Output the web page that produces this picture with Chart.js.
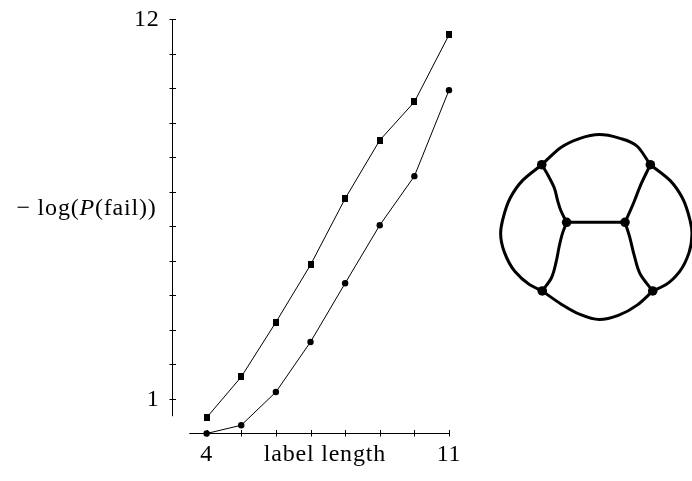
<!DOCTYPE html>
<html>
<head>
<meta charset="utf-8">
<script src="https://cdn.jsdelivr.net/npm/chart.js@4.4.1/dist/chart.umd.min.js"></script>
<style>
  html, body { margin: 0; padding: 0; background: #fff; }
  #wrap { position: relative; width: 692px; height: 481px; overflow: hidden; }
  #plot { position: absolute; left: 0; top: 0; }
  #graph { position: absolute; left: 470px; top: 110px; }
</style>
</head>
<body>
<div id="wrap">
  <canvas id="plot" width="692" height="481"></canvas>
  <canvas id="graph" width="222" height="240"></canvas>
</div>
<script>
// ---- plot data ----
const labelLengths = [4, 5, 6, 7, 8, 9, 10, 11];
const squareSeries = [0.46, 1.64, 3.22, 4.88, 6.80, 8.49, 9.60, 11.54];
const circleSeries = [0.00, 0.24, 1.20, 2.65, 4.35, 6.03, 7.45, 9.94];

const xTickValues = [4, 5, 6, 7, 8, 9, 10, 11];
const xTickLabels = ['4', '', '', '', '', '', '', '11'];
const yTickValues = [1, 2, 3, 4, 5, 6, 7, 8, 9, 10, 11, 12];
const yTickLabels = ['1', '', '', '', '', '', '', '', '', '', '', '12'];

const xTitle = 'label length';
const yTitleParts = [
  { text: '\u2212 log(', italic: false },
  { text: 'P', italic: true },
  { text: '(fail))', italic: false }
];

// separated axis lines: y axis sits at x = 3, x axis sits at y = 0
const yAxisAtX = 3;
const yAxisSpan = [0.5, 12];
const xAxisAtY = 0;
const xAxisSpan = [3.5, 11];

// ---- graph drawing data (layout units) ----
const graphNodes = {
  TL: [-0.58, 0.65], TR: [0.555, 0.65],
  ML: [-0.32, 0.05], MR: [0.29, 0.05],
  BL: [-0.575, -0.665], BR: [0.58, -0.665]
};
// each edge: the axis it runs along, then its waypoints from node to node
const graphEdges = [
  { along: 'x', path: ['TL', [-0.38, 0.83], [-0.18, 0.925], [0.02, 0.965], [0.22, 0.93], [0.42, 0.84], 'TR'] },
  { along: 'x', path: ['BL', [-0.38, -0.80], [-0.18, -0.91], [0.02, -0.963], [0.22, -0.92], [0.42, -0.81], 'BR'] },
  { along: 'y', path: ['TL', [-0.78, 0.487], [-0.91, 0.303], [-0.99, 0.07], [-1.01, -0.063], [-0.97, -0.263], [-0.86, -0.463], [-0.71, -0.597], 'BL'] },
  { along: 'y', path: ['TR', [0.76, 0.487], [0.89, 0.303], [0.97, 0.07], [0.99, -0.063], [0.96, -0.263], [0.86, -0.463], [0.72, -0.597], 'BR'] },
  { along: 'y', path: ['TL', [-0.513, 0.537], [-0.447, 0.403], [-0.413, 0.27], [-0.38, 0.17], 'ML'] },
  { along: 'y', path: ['ML', [-0.363, -0.063], [-0.397, -0.197], [-0.43, -0.363], [-0.48, -0.53], 'BL'] },
  { along: 'y', path: ['TR', [0.453, 0.437], [0.387, 0.27], [0.337, 0.153], 'MR'] },
  { along: 'y', path: ['MR', [0.337, -0.097], [0.387, -0.297], [0.453, -0.497], 'BR'] },
  { along: 'x', path: ['ML', 'MR'] }
];

const FONT = '"Liberation Serif", "Times New Roman", serif';
const FONT_SIZE = 24;
const LETTER_SPACING = '0.8px';

// small upright rectangle marker for the upper series
const rectMarker = document.createElement('canvas');
rectMarker.width = 6; rectMarker.height = 7;
(function () {
  const c = rectMarker.getContext('2d');
  c.fillStyle = '#000';
  c.fillRect(0, 0, 6, 7);
})();

const offsetAxes = {
  id: 'offsetAxes',
  beforeDatasetsDraw(chart) {
    const { ctx } = chart;
    const x = chart.scales.x, y = chart.scales.y;
    ctx.save();
    ctx.strokeStyle = '#000';
    ctx.lineWidth = 1;

    const ax = Math.floor(x.getPixelForValue(yAxisAtX)) + 0.5;
    const ay = Math.floor(y.getPixelForValue(xAxisAtY)) + 0.5;

    ctx.beginPath();
    ctx.moveTo(ax, y.getPixelForValue(yAxisSpan[1]));
    ctx.lineTo(ax, y.getPixelForValue(yAxisSpan[0]));
    yTickValues.forEach(v => {
      const p = Math.round(y.getPixelForValue(v)) + 0.5;
      ctx.moveTo(ax - 3, p); ctx.lineTo(ax + 3.5, p);
    });
    ctx.moveTo(x.getPixelForValue(xAxisSpan[0]), ay);
    ctx.lineTo(x.getPixelForValue(xAxisSpan[1]), ay);
    xTickValues.forEach(v => {
      const p = Math.round(x.getPixelForValue(v)) + 0.5;
      ctx.moveTo(p, ay - 3.5); ctx.lineTo(p, ay + 3);
    });
    ctx.stroke();

    ctx.fillStyle = '#000';
    ctx.font = FONT_SIZE + 'px ' + FONT;
    if ('letterSpacing' in ctx) ctx.letterSpacing = LETTER_SPACING;

    // y tick labels
    ctx.textAlign = 'right';
    ctx.textBaseline = 'middle';
    yTickValues.forEach((v, i) => {
      if (yTickLabels[i]) ctx.fillText(yTickLabels[i], ax - 13, y.getPixelForValue(v) + 1);
    });

    // x tick labels
    ctx.textAlign = 'center';
    ctx.textBaseline = 'alphabetic';
    const base = ay + 27;
    const edges = [];
    xTickValues.forEach((v, i) => {
      if (xTickLabels[i]) {
        const px = x.getPixelForValue(v);
        const w = ctx.measureText(xTickLabels[i]).width;
        ctx.fillText(xTickLabels[i], px, base);
        edges.push([px - w / 2, px + w / 2]);
      }
    });

    // x title between the outer tick labels
    const mid = (edges[0][1] + edges[edges.length - 1][0]) / 2;
    ctx.fillText(xTitle, mid, base);

    // y title, right aligned left of the tick labels
    ctx.textAlign = 'left';
    ctx.textBaseline = 'middle';
    const fonts = yTitleParts.map(p => (p.italic ? 'italic ' : '') + FONT_SIZE + 'px ' + FONT);
    const widths = yTitleParts.map((p, i) => { ctx.font = fonts[i]; return ctx.measureText(p.text).width; });
    const total = widths.reduce((a, b) => a + b, 0);
    let tx = ax - 16 - total;
    const ty = y.getPixelForValue((yTickValues[0] + yTickValues[yTickValues.length - 1]) / 2);
    yTitleParts.forEach((p, i) => {
      ctx.font = fonts[i];
      ctx.fillText(p.text, tx, ty);
      tx += widths[i];
    });
    ctx.restore();
  }
};

new Chart(document.getElementById('plot'), {
  type: 'line',
  data: {
    datasets: [
      {
        data: labelLengths.map((v, i) => ({ x: v, y: squareSeries[i] })),
        borderColor: '#000',
        borderWidth: 1,
        pointStyle: rectMarker,
        pointRadius: 4,
        backgroundColor: '#000',
        clip: false
      },
      {
        data: labelLengths.map((v, i) => ({ x: v, y: circleSeries[i] })),
        borderColor: '#000',
        borderWidth: 1,
        pointStyle: 'circle',
        pointRadius: 3.2,
        pointBorderWidth: 0,
        backgroundColor: '#000',
        pointBackgroundColor: '#000',
        clip: false
      }
    ]
  },
  options: {
    responsive: false,
    animation: false,
    events: [],
    layout: { padding: { left: 172, right: 243, top: 19, bottom: 47.5 } },
    plugins: { legend: { display: false }, tooltip: { enabled: false } },
    scales: {
      x: { type: 'linear', min: 3, max: 11, display: false },
      y: { type: 'linear', min: 0, max: 12, display: false }
    }
  },
  plugins: [offsetAxes]
});

// ---- graph drawing ----
const pt = p => {
  const c = typeof p === 'string' ? graphNodes[p] : p;
  return { x: c[0], y: c[1] };
};
const edgeSets = graphEdges.map(e => ({
  type: 'line',
  indexAxis: e.along,
  data: e.path.map(pt),
  borderColor: '#000',
  borderWidth: 3,
  pointRadius: 0,
  cubicInterpolationMode: 'monotone',
  fill: false,
  clip: false,
  order: 2
}));
const nodeSet = {
  type: 'scatter',
  data: Object.values(graphNodes).map(pt),
  pointRadius: 4.8,
  pointBorderWidth: 0,
  backgroundColor: '#000',
  pointBackgroundColor: '#000',
  clip: false,
  order: 1
};

new Chart(document.getElementById('graph'), {
  type: 'scatter',
  data: { datasets: [...edgeSets, nodeSet] },
  options: {
    responsive: false,
    animation: false,
    events: [],
    layout: { padding: 0 },
    elements: { line: { capBezierPoints: false } },
    plugins: { legend: { display: false }, tooltip: { enabled: false } },
    scales: {
      x: { type: 'linear', min: -1.28, max: 0.94, display: false },
      y: { type: 'linear', min: -1.23, max: 1.17, display: false }
    }
  }
});
</script>
</body>
</html>
